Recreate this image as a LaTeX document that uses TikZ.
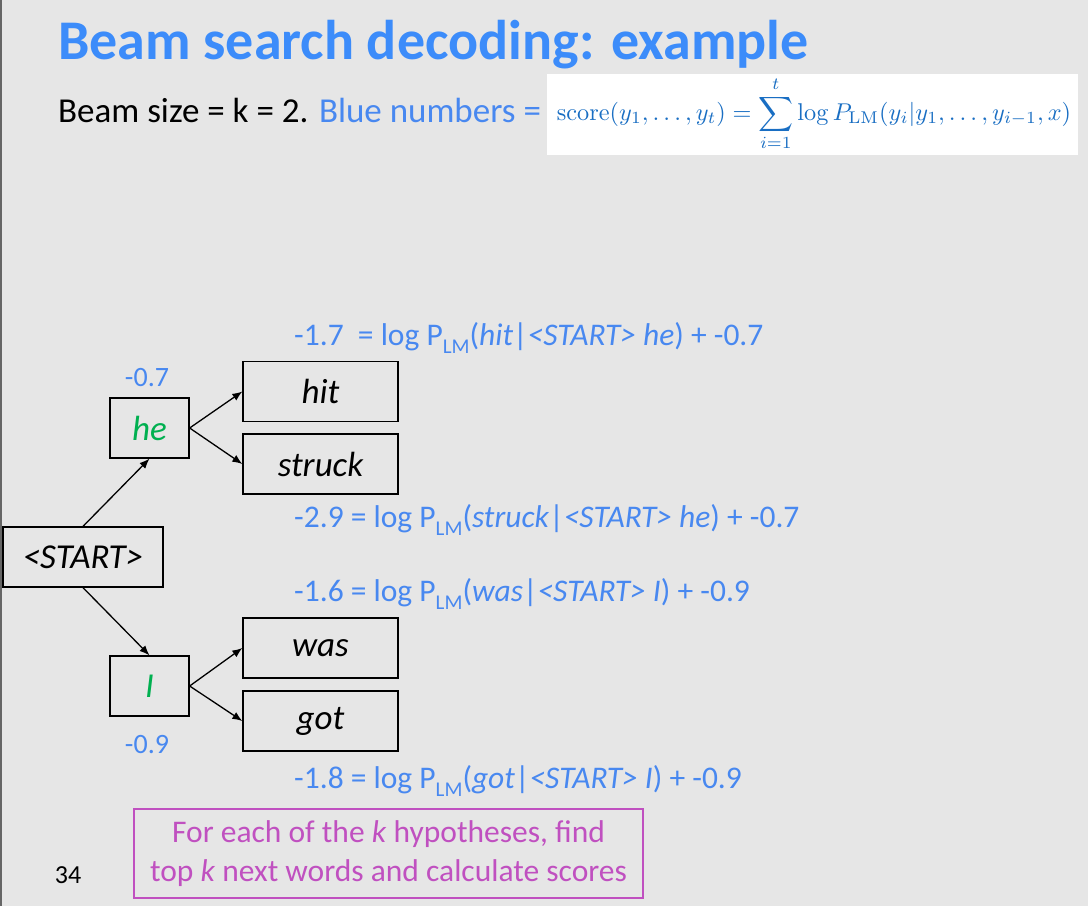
\documentclass[tikz,border=0pt]{standalone}
\usepackage[no-math]{fontspec}
\setmainfont{Carlito}
\usetikzlibrary{arrows.meta}
\definecolor{slidebg}{RGB}{230,230,230}
\definecolor{titleblue}{RGB}{60,140,250}
\definecolor{numblue}{RGB}{72,136,240}
\definecolor{fmlblue}{RGB}{25,110,195}
\definecolor{wordgreen}{RGB}{0,176,80}
\definecolor{notepurple}{RGB}{192,80,192}
\newcommand\fs[1]{\fontsize{#1}{#1}\selectfont}
\newcommand\lmsub{\raisebox{-0.28em}{\fs{21}LM}}
\tikzset{
  wordbox/.style={draw=black, line width=1.3pt, inner sep=0pt, minimum height=60pt,
    font=\fs{35}\itshape},
  lbl/.style={text=numblue, font=\fs{28}, inner sep=0pt},
  scoreline/.style={text=numblue, font=\fs{31.5}, inner sep=0pt, anchor=base west},
  arr/.style={line width=1.3pt, -{Latex[length=10pt,width=8pt]}}
}
\begin{document}
\begin{tikzpicture}[x=1pt,y=-1pt]
\fill[slidebg] (0,0) rectangle (1088,906);
\useasboundingbox (0,0) rectangle (1088,906);
\draw[gray!80!black, line width=2pt] (1,0) -- (1,906);

% score formula on white panel
\fill[white] (547,74) rectangle (1078,155);
\node[scale=2.43, text=fmlblue, inner sep=0pt] (fml) at (814,114)
  {$\displaystyle \mathrm{score}(y_1,\ldots,y_t)=\sum_{i=1}^{t}\log P_{\mathrm{LM}}(y_i|y_1,\ldots,y_{i-1},x)$};

% title and subtitle
\node[anchor=base west, inner sep=0pt, text=titleblue, font=\fs{56}\bfseries] (title) at (58,59) {Beam search decoding: example};
\node[anchor=base west, inner sep=0pt, font=\fs{35}] (sub) at (58,122) {Beam size = k = 2. \textcolor{numblue}{Blue numbers =}};

% search tree
\node[wordbox, minimum width=160pt] (start) at (83,557) {<START>};
\node[wordbox, minimum width=79pt, text=wordgreen] (he) at (149.5,428) {he};
\node[wordbox, minimum width=79pt, text=wordgreen] (i) at (149.5,686) {I};
\node[wordbox, minimum width=155pt] (hit) at (320.5,391.5) {hit};
\node[wordbox, minimum width=155pt] (struck) at (320.5,464) {struck};
\node[wordbox, minimum width=155pt] (was) at (320.5,648) {was};
\node[wordbox, minimum width=155pt] (got) at (320.5,721) {got};

\draw[arr] (start.north) -- (he.south);
\draw[arr] (start.south) -- (i.north);
\draw[arr] (he.east) -- (hit.west);
\draw[arr] (he.east) -- (struck.west);
\draw[arr] (i.east) -- (was.west);
\draw[arr] (i.east) -- (got.west);

% partial scores
\node[lbl] (she) at (147,378) {-0.7};
\node[lbl] (si) at (147,745) {-0.9};
\node[scoreline] (shit) at (294,345) {-1.7 \ = log P\lmsub(\textit{hit}|\textit{<START> he}) + -0.7};
\node[scoreline] (sstruck) at (294,527) {-2.9 = log P\lmsub(\textit{struck}|\textit{<START> he}) + -0.7};
\node[scoreline] (swas) at (294,601) {-1.6 = log P\lmsub(\textit{was}|\textit{<START> I}) + -0.9};
\node[scoreline] (sgot) at (294,788) {-1.8 = log P\lmsub(\textit{got}|\textit{<START> I}) + -0.9};

% note box and page number
\node[draw=notepurple, line width=1.5pt, text=notepurple, font=\fs{31.5}, align=center,
  minimum width=509pt, minimum height=89pt, inner sep=0pt] (note) at (388.5,853.5)
  {For each of the \textit{k} hypotheses, find\\[8pt] top \textit{k} next words and calculate scores};
\node[font=\fs{26}, inner sep=0pt] (page) at (68,875) {34};
\end{tikzpicture}
\end{document}
